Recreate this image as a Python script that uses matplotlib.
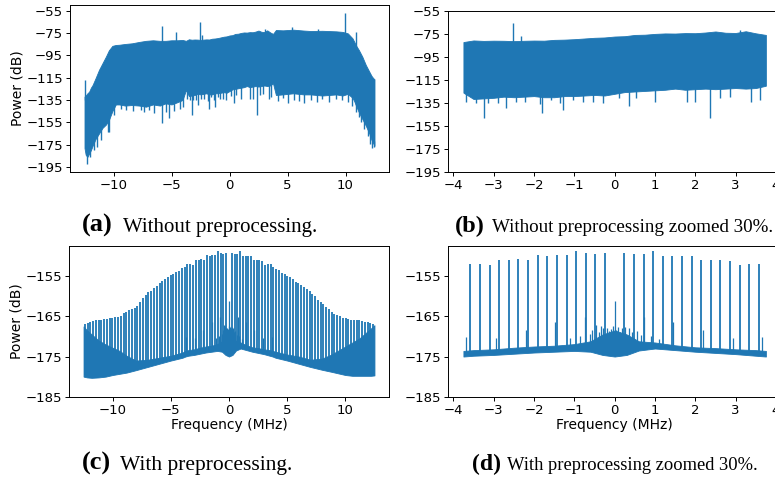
import numpy as np
import matplotlib
matplotlib.use("Agg")
import matplotlib.pyplot as plt

BLUE = "#1f77b4"

# ---------------- spectrum without preprocessing (panels a, b) ----------------
raw_freq = [-12.50, -12.40, -12.25, -12.10, -11.95, -11.80, -11.55, -11.25, -10.95, -10.65,
            -10.40, -10.10, -9.80, -9.50, -9.00, -8.40, -7.80, -7.20, -6.60, -6.00,
            -5.50, -5.00, -4.50, -4.05,
            -3.75, -3.50, -3.25, -3.00, -2.75, -2.50, -2.25, -2.00, -1.75, -1.50,
            -1.25, -1.00, -0.75, -0.50, -0.25, 0.00, 0.25, 0.50, 0.75, 1.00,
            1.25, 1.50, 1.75, 2.00, 2.25, 2.50, 2.75, 3.00, 3.25, 3.50, 3.75,
            4.00, 4.60, 5.50, 6.40, 7.00, 8.00, 9.20, 9.75, 10.20, 10.60,
            10.75, 10.90, 11.15, 11.45, 11.75, 12.05, 12.25, 12.40, 12.50]
raw_upper = [-132.0, -131.0, -129.0, -127.5, -124.0, -121.5, -115.5, -108.0, -102.0, -96.0,
             -90.5, -86.5, -85.7, -85.5, -84.8, -84.2, -83.0, -82.0, -81.5, -82.0,
             -82.0, -81.5, -81.5, -81.2,
             -82.0, -80.6, -81.0, -80.8, -80.9, -81.2, -80.9, -80.7, -80.8, -80.1,
             -79.9, -79.5, -78.9, -78.3, -78.0, -77.2, -76.9, -75.8, -75.6, -74.9,
             -74.5, -74.6, -74.2, -74.3, -73.7, -72.8, -73.9, -74.1, -72.6, -74.4, -75.8,
             -72.3, -72.6, -72.0, -72.8, -73.2, -73.0, -73.5, -74.0, -75.3, -79.7,
             -82.7, -86.0, -90.2, -96.2, -103.6, -109.6, -113.5, -115.5, -116.4]
raw_lower = [-178.0, -184.0, -186.0, -183.0, -180.0, -176.0, -170.0, -165.0, -160.0, -157.0,
             -153.0, -145.0, -139.0, -139.0, -140.0, -139.5, -140.0, -141.0, -139.0, -140.0,
             -138.0, -139.0, -137.0, -135.0,
             -126.0, -131.5, -131.0, -130.5, -129.5, -130.0, -129.5, -129.0, -130.0, -130.0,
             -129.0, -129.0, -128.5, -128.0, -128.5, -127.0, -125.5, -125.0, -124.5, -124.0,
             -123.5, -122.5, -123.5, -123.0, -122.5, -123.0, -122.5, -122.0, -122.5, -122.0, -120.0,
             -130.5, -130.0, -129.0, -130.0, -130.0, -131.0, -130.0, -131.0, -129.5, -133.0,
             -136.0, -140.0, -146.0, -152.0, -158.0, -165.0, -171.0, -174.0, -176.0]

raw_up_spike_freq = [-12.50, -5.84, -4.63, -2.51, -2.33, 3.10, 5.40, 7.60, 9.97, 10.94]
raw_up_spike_val = [-117.5, -68.7, -74.4, -65.2, -76.7, -71.5, -70.0, -71.8, -56.8, -73.8]

raw_dn_spike_freq = [-12.25, -12.05, -11.70, -11.45, -11.05, -10.50, -10.35, -9.95, -9.35, -8.90,
                     -8.30, -7.60, -7.36, -6.90, -6.50, -5.78, -5.50, -5.20, -4.80, -4.30,
                     -3.98, -3.68, -3.43, -3.24, -3.14, -2.89, -2.69, -2.44, -2.23, -1.86,
                     -1.80, -1.57, -1.36, -1.27, -1.03, -0.78, -0.53, -0.28, 0.12, 0.35,
                     0.54, 1.01, 1.80, 2.00, 2.36, 2.61, 2.85, 3.39, 3.60, 4.20,
                     4.57, 5.00, 5.57, 6.00, 6.43, 7.00, 7.50, 8.00, 8.60, 9.16,
                     9.74, 10.20, 10.60, 10.89, 11.17, 11.32, 11.60, 11.90, 12.10, 12.30, 12.45]
raw_dn_spike_val = [-192.6, -186.0, -180.0, -177.0, -171.0, -164.0, -163.5, -148.0, -143.0, -144.0,
                    -145.0, -144.0, -146.0, -144.0, -147.0, -155.8, -146.0, -151.4, -145.0, -143.0,
                    -141.0, -133.8, -135.3, -148.3, -135.3, -135.3, -139.6, -133.8, -133.8, -135.9,
                    -143.4, -132.4, -135.3, -141.1, -132.4, -133.8, -133.8, -135.3, -131.0, -137.6,
                    -130.9, -133.8, -133.8, -133.8, -148.3, -130.9, -129.5, -133.8, -132.4, -136.0,
                    -133.0, -138.0, -135.0, -136.0, -138.0, -135.0, -136.5, -134.0, -137.0, -134.0,
                    -135.0, -137.0, -140.0, -146.0, -150.0, -155.0, -161.0, -167.0, -174.0, -178.0, -177.0]

# ---------------- spectrum with preprocessing (panels c, d) ----------------
pre_freq = [-12.5, -12.2, -11.8, -11.2, -10.6, -10.0, -9.4, -8.8, -8.0, -7.0, -6.0, -5.0, -4.0,
            -3.75, -3.5, -3.0, -2.5, -2.0, -1.5, -1.0, -0.6, -0.3, 0.0, 0.3, 0.6, 1.0, 1.5,
            2.0, 2.5, 3.0, 3.5, 3.75,
            4.0, 5.0, 6.0, 7.0, 8.0, 8.8, 9.4, 10.0, 10.6, 11.2, 11.8, 12.2, 12.5]
pre_upper = [-167.5, -168.5, -169.5, -171.0, -172.0, -172.8, -173.6, -174.8, -176.0, -175.8, -175.3, -174.8, -174.0,
             -173.6, -173.4, -173.2, -172.8, -172.5, -172.3, -171.9, -171.2, -169.5, -168.5, -169.5, -171.2, -171.5, -172.2,
             -172.7, -172.9, -173.2, -173.4, -173.6,
             -173.8, -174.5, -175.0, -175.8, -175.5, -174.5, -173.5, -172.5, -171.5, -170.5, -169.0, -168.0, -167.2]
pre_lower = [-180.0, -180.2, -180.3, -180.2, -180.0, -179.6, -179.3, -179.0, -178.4, -177.6, -176.8, -176.0, -175.3,
             -175.0, -174.8, -174.6, -174.3, -174.0, -173.8, -173.6, -173.8, -174.6, -175.0, -174.6, -173.5, -173.0, -173.4,
             -173.8, -174.1, -174.4, -174.8, -175.0,
             -175.3, -176.0, -176.8, -177.6, -178.3, -178.8, -179.2, -179.6, -179.8, -179.8, -179.8, -179.8, -179.7]

comb_freq = [-12.40, -12.16, -11.93, -11.69, -11.45, -11.21, -10.97, -10.73, -10.49, -10.26,
             -10.02, -9.78, -9.54, -9.30, -9.06, -8.82, -8.59, -8.35, -8.11, -7.87,
             -7.63, -7.39, -7.16, -6.92, -6.68, -6.44, -6.20, -5.96, -5.72, -5.49,
             -5.25, -5.01, -4.77, -4.53, -4.29, -4.05, -3.82, -3.58, -3.34, -3.10,
             -2.86, -2.62, -2.39, -2.15, -1.91, -1.67, -1.43, -1.19, -0.95, -0.72,
             -0.48, -0.24,
             0.24, 0.48, 0.72, 0.95, 1.19, 1.43, 1.67, 1.91, 2.15, 2.39,
             2.62, 2.86, 3.10, 3.34, 3.58, 3.82, 4.05, 4.29, 4.53, 4.77,
             5.01, 5.25, 5.49, 5.72, 5.96, 6.20, 6.44, 6.68, 6.92, 7.16,
             7.39, 7.63, 7.87, 8.11, 8.35, 8.59, 8.82, 9.06, 9.30, 9.54,
             9.78, 10.02, 10.26, 10.49, 10.73, 10.97, 11.21, 11.45, 11.69, 11.93,
             12.16, 12.40]
comb_peak = [-166.8, -166.6, -166.4, -166.2, -166.0, -165.9, -165.8, -165.7, -165.6, -165.5,
             -165.3, -165.2, -165.1, -164.8, -164.2, -163.8, -163.5, -163.2, -162.8, -162.4,
             -161.5, -160.5, -159.7, -159.0, -158.6, -158.0, -157.4, -156.7, -156.2, -155.6,
             -155.2, -154.8, -154.4, -154.0, -153.6, -153.0, -152.7, -152.0, -152.0, -152.3,
             -151.0, -151.0, -150.8, -151.0, -149.8, -149.9, -149.8, -149.8, -148.8, -149.1,
             -149.4, -149.2,
             -149.1, -149.4, -149.4, -148.8, -149.9, -150.0, -150.0, -149.9, -151.0, -150.9,
             -151.0, -151.1, -152.3, -152.0, -152.0, -152.8, -153.2, -153.5, -154.3, -154.5,
             -155.0, -155.3, -155.7, -156.5, -156.8, -157.3, -157.8, -158.2, -158.6, -159.5,
             -160.0, -160.8, -161.4, -162.0, -162.6, -163.2, -163.9, -164.3, -164.6, -165.0,
             -165.4, -165.5, -165.6, -165.8, -165.9, -166.0, -166.0, -166.1, -166.3, -166.5,
             -166.7, -166.8]

pre_spike_freq = [-3.68, -2.94, -2.21, -1.48, -1.10, -0.85, -0.74, -0.62, -0.55, -0.46, -0.40,
                  -0.34, -0.28, -0.20, -0.14, -0.10, -0.04, 0.00, 0.04, 0.08, 0.14, 0.18, 0.26,
                  0.35, 0.42, 0.55, 0.66, 0.74, 0.90, 1.10, 1.45, 2.19, 2.94, 3.66]
pre_spike_val = [-170.1, -170.3, -168.3, -166.4, -170.5, -169.8, -165.1, -169.5, -168.5, -167.2, -168.8,
                 -167.4, -168.0, -167.8, -168.6, -168.2, -167.5, -161.1, -168.4, -167.6, -168.9, -168.0, -167.7,
                 -167.9, -169.0, -168.6, -169.6, -165.1, -170.0, -170.6, -166.4, -168.3, -170.3, -170.1]

cap_labels = ["(a)", "(b)", "(c)", "(d)"]
cap_texts = ["Without preprocessing.", "Without preprocessing zoomed 30%.",
             "With preprocessing.", "With preprocessing zoomed 30%."]

W, H = 775, 480
fig = plt.figure(figsize=(W / 100, H / 100), dpi=100)


def px_axes(left, top, right, bottom):
    return fig.add_axes([left / W, 1 - bottom / H, (right - left) / W, (bottom - top) / H])


def style(ax):
    for s in ax.spines.values():
        s.set_linewidth(0.7)
    ax.tick_params(labelsize=9.5, length=3.2, width=0.7, pad=2)


def draw_raw(ax, fmax):
    f = np.array(raw_freq)
    up = np.array(raw_upper)
    lo = np.array(raw_lower)
    m = np.abs(f) <= fmax + 1e-9
    ax.fill_between(f[m], lo[m], up[m], color=BLUE, lw=0.6)
    sf = np.array(raw_dn_spike_freq)
    sv = np.array(raw_dn_spike_val)
    k = np.abs(sf) <= fmax
    ax.vlines(sf[k], sv[k], np.interp(sf[k], f, lo) + 3, color=BLUE, lw=1.0)
    uf = np.array(raw_up_spike_freq)
    uv = np.array(raw_up_spike_val)
    k = np.abs(uf) <= fmax
    ax.vlines(uf[k], np.interp(uf[k], f, up) - 3, uv[k], color=BLUE, lw=1.0)


def draw_pre(ax, fmax, lw):
    f = np.array(pre_freq)
    up = np.array(pre_upper)
    lo = np.array(pre_lower)
    m = np.abs(f) <= fmax + 1e-9
    ax.fill_between(f[m], lo[m], up[m], color=BLUE, lw=0.6)
    cf = np.array(comb_freq)
    cp = np.array(comb_peak)
    k = np.abs(cf) <= fmax
    ax.vlines(cf[k], np.interp(cf[k], f, lo) + 0.5, cp[k], color=BLUE, lw=lw)
    sf = np.array(pre_spike_freq)
    sv = np.array(pre_spike_val)
    k = np.abs(sf) <= fmax
    ax.vlines(sf[k], np.interp(sf[k], f, lo) + 0.5, sv[k], color=BLUE, lw=0.9)


# (a)
ax = px_axes(70, 5, 389, 172)
draw_raw(ax, 12.5)
ax.set_xlim(-13.75, 13.75)
ax.set_ylim(-199.5, -49.9)
ax.set_yticks(np.arange(-195, -54, 20))
ax.set_xticks([-10, -5, 0, 5, 10])
ax.set_ylabel("Power (dB)", fontsize=10)
ax.yaxis.set_label_coords(-0.144, 0.5)
style(ax)

# (b)
ax = px_axes(448.3, 11, 781, 172)
draw_raw(ax, 3.75)
ax.set_xlim(-4.125, 4.125)
ax.set_ylim(-195, -55)
ax.set_yticks(np.arange(-195, -54, 20))
ax.set_xticks(np.arange(-4, 5, 1))
style(ax)

# (c)
ax = px_axes(69, 245.7, 389, 396.7)
draw_pre(ax, 12.5, 1.3)
ax.set_xlim(-13.75, 13.75)
ax.set_ylim(-185, -147.4)
ax.set_yticks([-185, -175, -165, -155])
ax.set_xticks([-10, -5, 0, 5, 10])
ax.set_ylabel("Power (dB)", fontsize=10)
ax.yaxis.set_label_coords(-0.141, 0.5)
ax.set_xlabel("Frequency (MHz)", fontsize=10, labelpad=1)
style(ax)

# (d)
ax = px_axes(448.3, 245.7, 781, 396.7)
draw_pre(ax, 3.75, 1.3)
ax.set_xlim(-4.125, 4.125)
ax.set_ylim(-185, -147.4)
ax.set_yticks([-185, -175, -165, -155])
ax.set_xticks(np.arange(-4, 5, 1))
ax.set_xlabel("Frequency (MHz)", fontsize=10, labelpad=1)
style(ax)

# captions: label left x, text left x, baseline y, label size, text size
cap_pos = [(81.7, 123.3, 232, 19, 15.0), (455, 491.7, 232, 17.5, 13.7),
           (81.7, 120, 470, 19, 15.5), (471.7, 506.7, 470, 17, 13.3)]
for lab, txt, (xl, xt, yb, sl, st) in zip(cap_labels, cap_texts, cap_pos):
    fig.text(xl / W, 1 - yb / H, lab, fontsize=sl, fontweight="bold",
             family="Liberation Serif", va="baseline", ha="left")
    fig.text(xt / W, 1 - yb / H, txt, fontsize=st,
             family="Liberation Serif", va="baseline", ha="left")

fig.savefig("out.png", dpi=100)
